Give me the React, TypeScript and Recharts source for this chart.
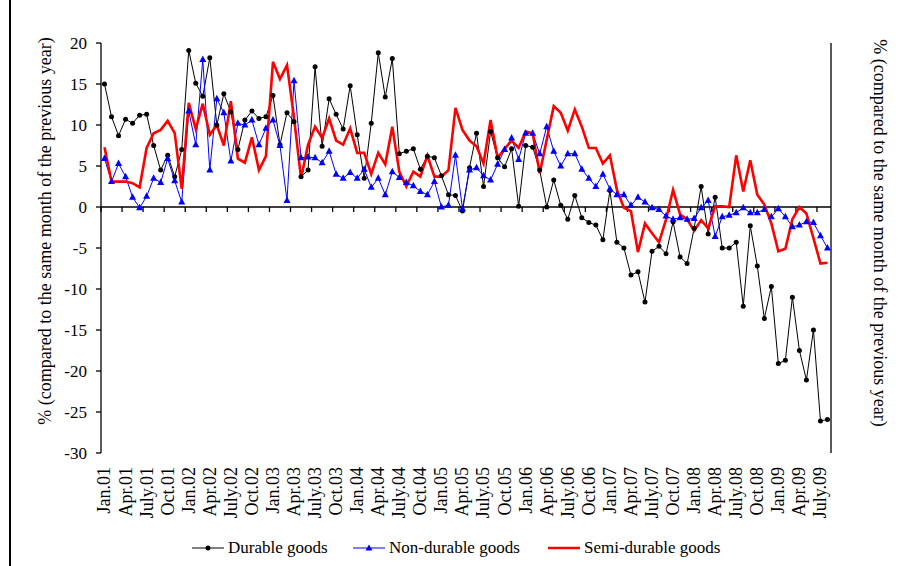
import React from "react";
import {
  ComposedChart,
  Line,
  XAxis,
  YAxis,
  ReferenceLine
} from "recharts";

// monthly, Jan.01 .. Aug.09 (% change vs same month of previous year)
const durable = [
  15.0, 11.0, 8.7, 10.7, 10.2, 11.2, 11.3, 7.5, 4.5, 6.3, 3.7, 7.0,
  19.1, 15.1, 13.5, 18.2, 10.0, 13.8, 11.6, 7.0, 10.6, 11.7, 10.8, 11.0,
  13.6, 7.6, 11.5, 10.4, 3.7, 4.5, 17.1, 7.4, 13.2, 11.3, 9.5, 14.8,
  8.8, 3.5, 10.2, 18.8, 13.4, 18.1, 6.5, 6.8, 7.1, 4.6, 6.2, 6.0,
  3.8, 1.5, 1.4, -0.5, 4.8, 9.0, 2.5, 9.2, 6.0, 4.9, 7.1, 0.1,
  7.5, 7.3, 4.5, 0.0, 3.3, 0.2, -1.5, 1.4, -1.3, -1.9, -2.2, -4.0,
  2.0, -4.3, -5.0, -8.3, -7.9, -11.6, -5.4, -4.8, -5.7, -1.8, -6.1, -6.9,
  -2.6, 2.5, -3.3, 1.2, -5.0, -5.0, -4.3, -12.1, -2.3, -7.2, -13.6, -9.7,
  -19.1, -18.7, -11.0, -17.5, -21.1, -15.0, -26.1, -25.9
];

const nonDurable = [
  5.9, 3.1, 5.3, 3.7, 1.2, -0.1, 1.3, 3.5, 3.0, 5.9, 3.2, 0.6,
  11.7, 7.6, 18.0, 4.5, 13.2, 11.5, 5.6, 10.2, 10.0, 10.6, 7.6, 9.6,
  10.6, 7.5, 0.8, 15.4, 6.0, 6.1, 6.0, 5.4, 6.8, 4.0, 3.5, 4.2,
  3.5, 4.6, 2.4, 3.5, 1.5, 4.3, 3.6, 3.0, 2.6, 1.9, 1.5, 3.1,
  0.0, 0.2, 6.3, -0.2, 4.5, 4.8, 3.8, 3.3, 5.2, 7.0, 8.4, 5.8,
  9.0, 9.0, 6.5, 9.8, 6.8, 5.0, 6.5, 6.5, 4.6, 3.5, 2.5, 4.0,
  2.2, 1.5, 1.5, 0.2, 1.2, 0.6, -0.1, -0.3, -1.1, -1.5, -1.3, -1.5,
  -1.4, -0.1, 0.8, -3.6, -1.2, -1.0, -0.7, -0.1, -0.7, -0.7, -0.3, -1.2,
  -0.2, -1.2, -2.4, -2.2, -1.8, -1.9, -3.5, -5.0
];

const semiDurable = [
  7.3, 3.1, 3.1, 3.1, 2.9, 2.4, 7.2, 9.0, 9.4, 10.5, 9.0, 2.2,
  12.7, 9.5, 12.6, 8.8, 10.0, 7.5, 12.9, 5.9, 5.4, 8.5, 4.5, 6.2,
  17.7, 15.6, 17.3, 10.9, 3.5, 7.6, 9.8, 8.4, 10.8, 8.1, 7.6, 9.6,
  6.6, 6.6, 4.0, 6.6, 5.2, 9.8, 4.3, 2.5, 4.3, 3.7, 6.3, 3.7,
  3.7, 4.5, 12.1, 9.4, 8.1, 7.4, 5.3, 10.6, 6.0, 7.1, 8.1, 7.2,
  9.2, 9.0, 4.1, 8.2, 12.3, 11.5, 9.3, 11.9, 9.8, 7.2, 7.2, 5.3,
  6.3, 2.1, -0.1, -0.5, -5.5, -2.0, -3.2, -4.3, -1.5, 2.1, -0.9, -1.5,
  -2.9, -1.6, -2.6, 0.1, 0.1, 0.0, 6.3, 1.9, 5.7, 1.5, 0.3, -2.0,
  -5.4, -5.1, -1.5, 0.0, -0.8, -3.8, -6.9, -6.8
];

// one label every third month
const xTickLabels = [
  "Jan.01", "Apr.01", "July.01", "Oct.01",
  "Jan.02", "Apr.02", "July.02", "Oct.02",
  "Jan.03", "Apr.03", "July.03", "Oct.03",
  "Jan.04", "Apr.04", "July.04", "Oct.04",
  "Jan.05", "Apr.05", "July.05", "Oct.05",
  "Jan.06", "Apr.06", "July.06", "Oct.06",
  "Jan.07", "Apr.07", "July.07", "Oct.07",
  "Jan.08", "Apr.08", "July.08", "Oct.08",
  "Jan.09", "Apr.09", "July.09"
];

const yTicks = [-30, -25, -20, -15, -10, -5, 0, 5, 10, 15, 20];
const axisTitle = "% (compared to the same month of the previous year)";

const FONT = '"Liberation Serif", "DejaVu Serif", "Times New Roman", serif';

const data = durable.map((v, i) => ({
  i,
  durable: v,
  nonDurable: nonDurable[i],
  semiDurable: semiDurable[i]
}));

const tickIdx = xTickLabels.map((_, k) => k * 3);

const XTick = ({ x, y, payload }: any) => {
  const label = xTickLabels[payload.value / 3];
  return (
    <text
      x={x}
      y={y}
      transform={`rotate(-90, ${x}, ${y})`}
      textAnchor="end"
      dy="0.33em"
      fontSize={18}
      style={{ fontFamily: FONT }}
      fill="#000"
    >
      {label}
    </text>
  );
};

const Triangle = ({ cx, cy }: any) => {
  if (cx == null || cy == null) return null;
  return (
    <polygon
      points={`${cx},${cy - 4} ${cx - 3.5},${cy + 2.5} ${cx + 3.5},${cy + 2.5}`}
      fill="#0000FF"
    />
  );
};

const LeftTitle = ({ viewBox }: any) => {
  const x = viewBox.x + 45;
  const y = viewBox.y + viewBox.height / 2 - 17;
  return (
    <text x={x} y={y} transform={`rotate(-90, ${x}, ${y})`} textAnchor="middle"
      dominantBaseline="central" fontSize={18} style={{ fontFamily: FONT }} fill="#000">
      {axisTitle}
    </text>
  );
};

const RightTitle = ({ viewBox }: any) => {
  const x = viewBox.x + 49;
  const y = viewBox.y + viewBox.height / 2 - 15;
  return (
    <text x={x} y={y} transform={`rotate(90, ${x}, ${y})`} textAnchor="middle"
      dominantBaseline="central" fontSize={18} style={{ fontFamily: FONT }} fill="#000">
      {axisTitle}
    </text>
  );
};

const legendItems = [
  { name: "Durable goods", color: "#000", marker: "circle", left: 192 },
  { name: "Non-durable goods", color: "#0000FF", marker: "triangle", left: 353 },
  { name: "Semi-durable goods", color: "#FF0000", marker: "none", left: 548 }
];

const ChartLegend = () => (
  <>
    {legendItems.map((it) => (
      <div
        key={it.name}
        style={{
          position: "absolute",
          left: it.left,
          top: 537,
          height: 22,
          display: "flex",
          alignItems: "center",
          fontFamily: FONT,
          fontSize: 17,
          color: "#000",
          whiteSpace: "nowrap"
        }}
      >
        <svg width={32} height={22} style={{ marginRight: 4 }}>
          <line x1={0} x2={32} y1={11} y2={11} stroke={it.color}
            strokeWidth={it.marker === "none" ? 2.5 : 1} />
          {it.marker === "circle" && <circle cx={16} cy={11} r={2.5} fill={it.color} />}
          {it.marker === "triangle" && (
            <polygon points="16,7.5 12.5,13.5 19.5,13.5" fill={it.color} />
          )}
        </svg>
        <span>{it.name}</span>
      </div>
    ))}
  </>
);

export default function App() {
  return (
    <div
      style={{
        position: "absolute",
        left: 0,
        top: 0,
        width: 905,
        height: 566,
        background: "#fff",
        fontFamily: FONT
      }}
    >
      <div style={{ position: "absolute", left: 9, top: 0, width: 2, height: 566, background: "#000" }} />
      <ComposedChart
        width={905}
        height={566}
        data={data}
        margin={{ top: 43, right: 0, bottom: 43, left: 0 }}
        style={{ fontFamily: FONT }}
      >
        <XAxis
          type="number"
          dataKey="i"
          domain={[-0.5, 103.5]}
          ticks={tickIdx}
          interval={0}
          height={70}
          axisLine={false}
          tickLine={false}
          tickSize={0}
          tickMargin={14}
          tick={<XTick />}
        />
        <YAxis
          yAxisId="left"
          domain={[-30, 20]}
          ticks={yTicks}
          interval={0}
          width={101}
          tickSize={5}
          tickMargin={9}
          axisLine={{ stroke: "#000", strokeWidth: 1.3 }}
          tickLine={{ stroke: "#000", strokeWidth: 1.3 }}
          tick={{ fill: "#000", fontSize: 17, style: { fontFamily: FONT } }}
          label={LeftTitle}
        />
        <YAxis
          yAxisId="right"
          orientation="right"
          domain={[-30, 20]}
          ticks={yTicks}
          interval={0}
          width={74}
          tickSize={-6}
          tickMargin={20}
          axisLine={{ stroke: "#000", strokeWidth: 1.3 }}
          tickLine={{ stroke: "#000", strokeWidth: 1.3 }}
          tick={{ fill: "#000", fontSize: 17, textAnchor: "start", style: { fontFamily: FONT } }}
          label={RightTitle}
        />
        <ReferenceLine yAxisId="left" y={0} stroke="#000" strokeWidth={1.5} />
        {tickIdx.map((t) => (
          <ReferenceLine
            key={`tk-${t}`}
            yAxisId="left"
            segment={[{ x: t - 0.5, y: 0 }, { x: t - 0.5, y: -0.6 }]}
            stroke="#000"
            strokeWidth={1.3}
          />
        ))}
        <Line
          yAxisId="left"
          type="linear"
          dataKey="durable"
          stroke="#000"
          strokeWidth={1}
          dot={{ r: 2.5, fill: "#000", stroke: "none" }}
          activeDot={false}
          isAnimationActive={false}
        />
        <Line
          yAxisId="left"
          type="linear"
          dataKey="nonDurable"
          stroke="#0000FF"
          strokeWidth={1}
          dot={<Triangle />}
          activeDot={false}
          isAnimationActive={false}
        />
        <Line
          yAxisId="left"
          type="linear"
          dataKey="semiDurable"
          stroke="#FF0000"
          strokeWidth={2.6}
          dot={false}
          activeDot={false}
          isAnimationActive={false}
        />
      </ComposedChart>
      <ChartLegend />
    </div>
  );
}
